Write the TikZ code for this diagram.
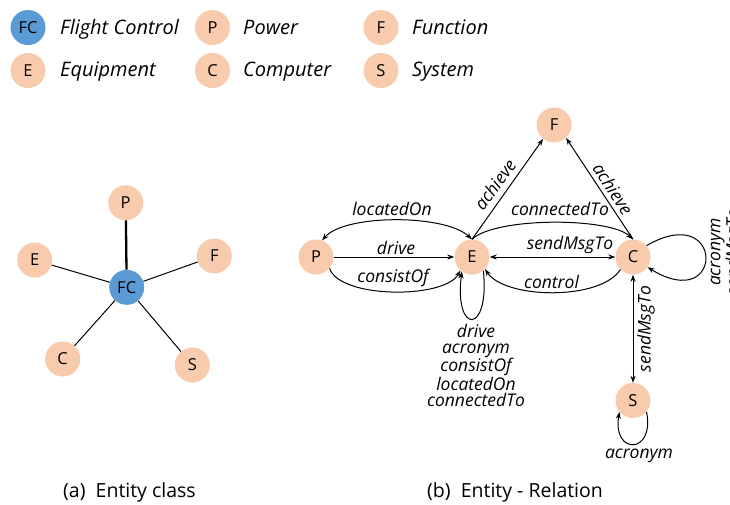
\documentclass[tikz,border=0pt]{standalone}
\usepackage{fontspec}
\setmainfont{Open Sans}
\usetikzlibrary{arrows.meta}
\definecolor{peach}{HTML}{F8CBAD}
\definecolor{fcblue}{HTML}{5B9BD5}
\begin{document}
\begin{tikzpicture}[x=1pt,y=-1pt,
 ent/.style={circle,fill=peach,minimum size=35pt,inner sep=0pt,font=\fontsize{16.5}{18}\selectfont},
 fcnode/.style={ent,fill=fcblue},
 leg/.style={anchor=base west,font=\fontsize{20}{22}\selectfont\itshape,inner sep=0pt},
 lab/.style={font=\fontsize{17.5}{15.8}\selectfont\itshape,inner sep=0pt},
 edge/.style={line width=1pt},
 thickedge/.style={line width=2.3pt},
 arr/.style={edge,-{Stealth[length=7pt,width=5pt]}},
 darr/.style={edge,{Stealth[length=7pt,width=5pt]}-{Stealth[length=7pt,width=5pt]}},
 capt/.style={anchor=base west,font=\fontsize{19.5}{22}\selectfont,inner sep=0pt}]
\useasboundingbox (0,0) rectangle (730,504);
% legend
\node[fcnode] (lfc) at (28,27.5) {FC};
\node[leg] (tfc) at (60,34) {Flight Control};
\node[ent] (lp) at (212.5,27.5) {P};
\node[leg] (tp) at (243,34) {Power};
\node[ent] (lf) at (381,27.5) {F};
\node[leg] (tf) at (412,34) {Function};
\node[ent] (le) at (28,70.5) {E};
\node[leg] (te) at (60,76) {Equipment};
\node[ent] (lc) at (212.5,70.5) {C};
\node[leg] (tc) at (243,76) {Computer};
\node[ent] (ls) at (381,70.5) {S};
\node[leg] (ts) at (412,76) {System};
% (a)
\node[fcnode] (FC) at (126.7,287.3) {FC};
\node[ent] (aP) at (125.7,202.7) {P};
\node[ent] (aE) at (34.7,260) {E};
\node[ent] (aF) at (214.3,256) {F};
\node[ent] (aC) at (62.7,359) {C};
\node[ent] (aS) at (192.3,365) {S};
\draw[thickedge] (FC) -- (aP);
\draw[edge] (FC) -- (aE);
\draw[edge] (FC) -- (aF);
\draw[edge] (FC) -- (aC);
\draw[edge] (FC) -- (aS);
% (b)
\node[ent] (P) at (316,257) {P};
\node[ent] (E) at (472,257) {E};
\node[ent] (F) at (554,125) {F};
\node[ent] (C) at (633,257) {C};
\node[ent] (S) at (633,400.5) {S};
\draw[arr] (P) -- (E);
\node[lab,anchor=base] (ldrive) at (396,254) {drive};
\draw[darr] (E.90) .. controls (445,214) and (345,214) .. (P.70);
\node[lab,anchor=base] (llocated) at (392,215.5) {locatedOn};
\draw[arr] (P.-40) .. controls (340,299) and (445,299) .. (E.-131);
\node[lab,anchor=base] (lconsist) at (393,282.5) {consistOf};
\draw[arr] (E.90) -- (F.-128);
\node[lab,rotate=54] (lach1) at (495,184.5) {achieve};
\draw[arr] (C.90) -- (F.-47);
\node[lab,rotate=-57] (lach2) at (613,189) {achieve};
\draw[arr] (E.90) .. controls (495,217) and (610,217) .. (C.90);
\node[lab,anchor=base] (lconn) at (560,215) {connectedTo};
\draw[darr] (E) -- (C);
\node[lab,anchor=base] (lsend) at (570,249) {sendMsgTo};
\draw[arr] (C.-135) .. controls (600,301) and (505,299) .. (E.-43);
\node[lab,anchor=base] (lcontrol) at (551.5,288) {control};
\draw[arr] (E.-50) .. controls (490,335) and (454,335) .. (E.-125);
\node[lab,align=center,anchor=north] (leloop) at (476,324) {drive\\acronym\\consistOf\\locatedOn\\connectedTo};
\draw[arr] (C.40) .. controls (725,200) and (725,315) .. (C.-35);
\node[lab,align=center,rotate=90] (lcloop) at (727,252) {acronym\\sendMsgTo};
\draw[darr] (C) -- (S);
\node[lab,rotate=90] (lcs) at (646,329) {sendMsgTo};
\draw[arr] (S.-40) .. controls (655,455) and (612,455) .. (S.-140);
\node[lab,anchor=base] (lsloop) at (639,458) {acronym};
% captions
\node[capt] (capa) at (63,497) {(a)\ \ Entity class};
\node[capt] (capb) at (427,497) {(b)\ \ Entity - Relation};
\end{tikzpicture}
\end{document}
